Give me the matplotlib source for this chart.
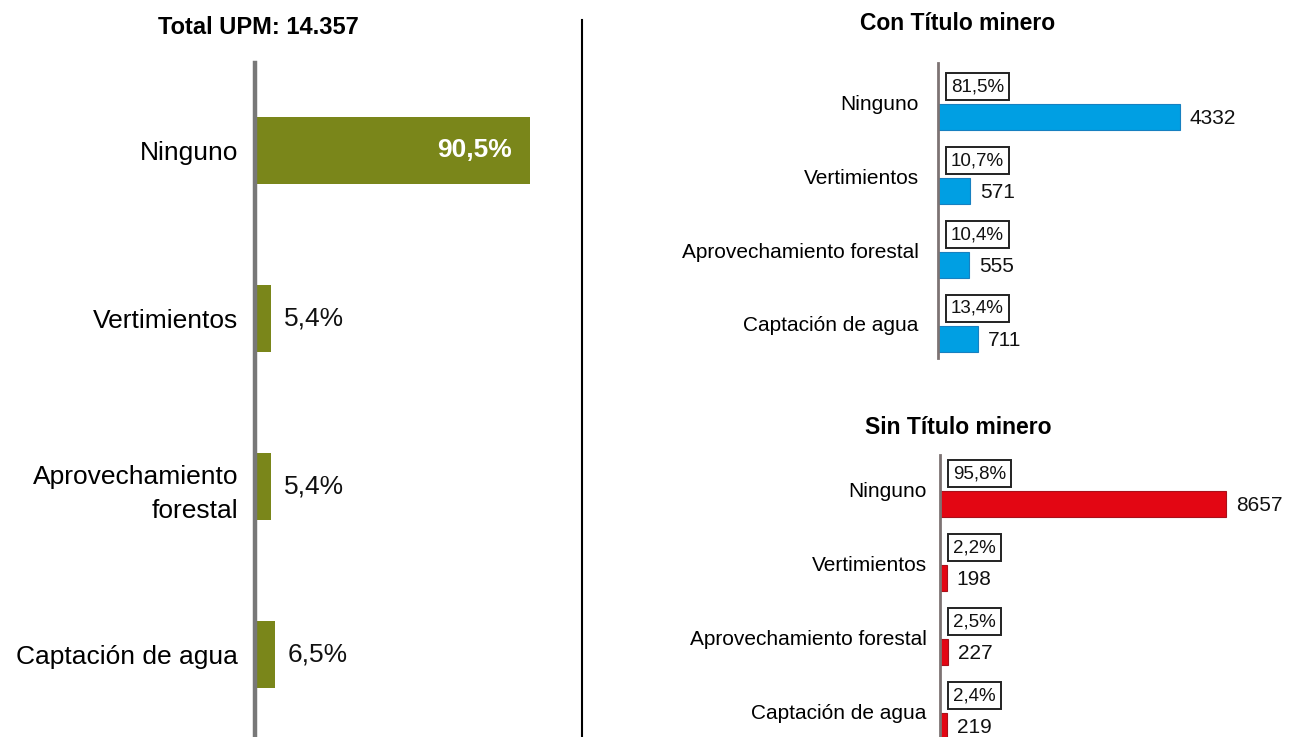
import matplotlib
matplotlib.use('Agg')
import matplotlib.pyplot as plt

plt.rcParams['font.family'] = ['Liberation Sans', 'DejaVu Sans']

# data
cats_left = ["Ninguno", "Vertimientos", "Aprovechamiento\nforestal", "Captación de agua"]
pct_total = [90.5, 5.4, 5.4, 6.5]
pct_total_lbl = ["90,5%", "5,4%", "5,4%", "6,5%"]

cats_right = ["Ninguno", "Vertimientos", "Aprovechamiento forestal", "Captación de agua"]
con_n = [4332, 571, 555, 711]
con_pct = ["81,5%", "10,7%", "10,4%", "13,4%"]
sin_n = [8657, 198, 227, 219]
sin_pct = ["95,8%", "2,2%", "2,5%", "2,4%"]

GREEN = '#7A861A'
BLUE = '#009FE3'
RED = '#E30613'
W, H = 1290, 737

fig = plt.figure(figsize=(12.9, 7.37), dpi=100)

def px_axes(l, t, r, b):
    return fig.add_axes([l / W, 1 - b / H, (r - l) / W, (b - t) / H])

def clean(ax, lw, col):
    for s in ['top', 'right', 'bottom']:
        ax.spines[s].set_visible(False)
    ax.spines['left'].set_linewidth(lw)
    ax.spines['left'].set_color(col)
    ax.set_xticks([])
    ax.tick_params(axis='y', length=0)

# ---- left panel: total
axL = px_axes(255, 63, 559, 737)
yl = range(len(cats_left))
axL.barh(yl, pct_total, height=0.40, color=GREEN, zorder=1)
axL.set_xlim(0, 100)
axL.set_ylim(3.49, -0.52)
axL.set_yticks(list(yl))
axL.set_yticklabels(cats_left, fontsize=19, multialignment='right', linespacing=1.5)
clean(axL, 3.2, '#787878')
axL.tick_params(axis='y', pad=12)
for i, (v, s) in enumerate(zip(pct_total, pct_total_lbl)):
    if i == 0:
        axL.annotate(s, (v, i), xytext=(-18, 0), textcoords='offset pixels',
                     ha='right', va='center', fontsize=19, fontweight='bold', color='white')
    else:
        axL.annotate(s, (v, i), xytext=(13, 0), textcoords='offset pixels',
                     ha='left', va='center', fontsize=19, color='#111111')
fig.text(258 / W, 1 - 27 / H, "Total UPM: 14.357", ha='center', va='center',
         fontsize=17, fontweight='bold')

# separator
fig.add_artist(plt.Line2D([582 / W, 582 / W], [0, 1 - 20 / H], color='black', lw=1.5))

# ---- right panels
def right_panel(ax, vals, pcts, color, edge, xmax, ylim, pad, title, ty):
    y = range(len(cats_right))
    ax.barh([i + 0.2 for i in y], vals, height=0.35, color=color,
            edgecolor=edge, linewidth=0.8, zorder=2)
    ax.set_xlim(0, xmax)
    ax.set_ylim(*ylim)
    ax.set_yticks(list(y))
    ax.set_yticklabels(cats_right, fontsize=15)
    clean(ax, 2, '#7d7373')
    ax.tick_params(axis='y', pad=pad)
    for i, (v, p) in enumerate(zip(vals, pcts)):
        ax.annotate(str(v), (v, i + 0.2), xytext=(10, -2), textcoords='offset pixels',
                    ha='left', va='center', fontsize=15, color='#111111')
        ax.annotate(p, (0, i - 0.21), xytext=(13, 0), textcoords='offset pixels',
                    ha='left', va='center', fontsize=13.5, color='#111111',
                    bbox=dict(boxstyle='square,pad=0.28', fc='white', ec='#222222', lw=1.4))
    fig.text(958 / W, 1 - ty / H, title, ha='center', va='center',
             fontsize=16.5, fontweight='bold')

axC = px_axes(938, 63, 1290, 358)
right_panel(axC, con_n, con_pct, BLUE, '#1780c0', 352 / 0.05586,
            (3.46, -0.53), 14, "Con Título minero", 24)

axS = px_axes(940, 455, 1290, 737)
right_panel(axS, sin_n, sin_pct, RED, '#a8101a', 350 / 0.03304,
            (3.35, -0.46), 9.5, "Sin Título minero", 427)

fig.savefig('out.png', dpi=100)
